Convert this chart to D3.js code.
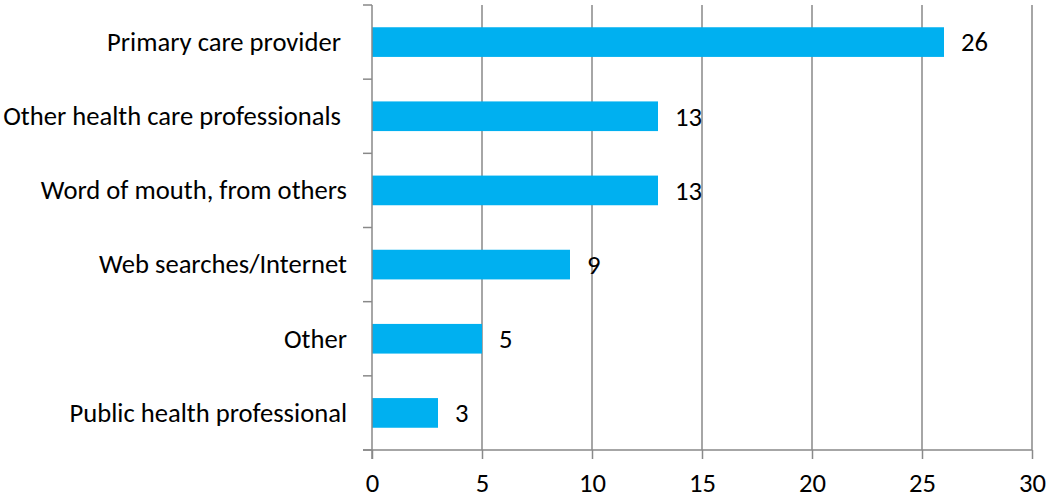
<!DOCTYPE html>
<html>
<head>
<meta charset="utf-8">
<script src="https://cdn.jsdelivr.net/npm/d3@7"></script>
<style>
  html, body { margin: 0; padding: 0; background: #fff; }
  svg { display: block; }
  text { font-family: Carlito, Calibri, Lato, "Open Sans", sans-serif; fill: #000; }
</style>
</head>
<body>
<svg id="chart" width="1047" height="498"></svg>
<script>
const categories = [
  "Primary care provider ",
  "Other health care professionals ",
  "Word of mouth, from others",
  "Web searches/Internet",
  "Other",
  "Public health professional"
];
const values = [26, 13, 13, 9, 5, 3];
const xTicks = [0, 5, 10, 15, 20, 25, 30];

(function () {
const svg = d3.select("#chart");
const mLeft = 372, mRight = 1032, mTop = 5, mBottom = 450;
const gray = "#898989";

const x = d3.scaleLinear().domain([0, 30]).range([mLeft, mRight]);
const y = d3.scaleBand().domain(categories).range([mTop, mBottom]).paddingInner(0.6).paddingOuter(0.3);

// font size so longest label ~ 338px wide
const probe = svg.append("text").attr("font-size", 20).style("white-space", "pre").text("Other health care professionals");
const w = probe.node().getComputedTextLength();
probe.remove();
const fs = Math.max(18, Math.min(30, 20 * 338 / w));

// gridlines
svg.append("g").selectAll("line").data(xTicks.filter(d => d > 0)).join("line")
  .attr("x1", d => x(d)).attr("x2", d => x(d))
  .attr("y1", mTop).attr("y2", mBottom)
  .attr("stroke", gray).attr("stroke-width", 1.5);

// bars
svg.append("g").selectAll("rect").data(categories).join("rect")
  .attr("x", x(0))
  .attr("y", d => y(d))
  .attr("width", (d, i) => x(values[i]) - x(0))
  .attr("height", y.bandwidth())
  .attr("fill", "#00B0F0");

// value labels
svg.append("g").selectAll("text").data(categories).join("text")
  .attr("x", (d, i) => x(values[i]) + 17)
  .attr("y", d => y(d) + y.bandwidth() / 2)
  .attr("dy", "0.35em")
  .attr("font-size", fs)
  .text((d, i) => values[i]);

// x axis
const xAxis = d3.axisBottom(x).tickValues(xTicks).tickSize(9).tickFormat(d3.format("d"));
const gx = svg.append("g").attr("transform", `translate(0,${mBottom})`).call(xAxis);
gx.select(".domain").attr("stroke", gray).attr("stroke-width", 1.5).attr("d", `M${mLeft - 9},0H${mRight}`);
gx.selectAll(".tick line").attr("stroke", gray).attr("stroke-width", 1.5);
gx.selectAll(".tick text").attr("font-size", fs).attr("fill", "#000")
  .attr("y", 42).attr("dy", 0)
  .style("font-family", "Carlito, Calibri, Lato, 'Open Sans', sans-serif");

// y axis: ticks at band boundaries
const boundaries = categories.map(c => y(c) - y.step() * y.paddingInner() / 2);
boundaries[0] = mTop;
boundaries.push(mBottom);
const gy = svg.append("g");
gy.append("line").attr("x1", mLeft).attr("x2", mLeft).attr("y1", mTop).attr("y2", mBottom + 9)
  .attr("stroke", gray).attr("stroke-width", 1.5);
gy.selectAll("line.t").data(boundaries).join("line").attr("class", "t")
  .attr("x1", mLeft - 9).attr("x2", mLeft)
  .attr("y1", d => d).attr("y2", d => d)
  .attr("stroke", gray).attr("stroke-width", 1.5);

// category labels
svg.append("g").selectAll("text").data(categories).join("text")
  .attr("x", mLeft - 25)
  .attr("y", d => y(d) + y.bandwidth() / 2)
  .attr("dy", "0.33em")
  .attr("text-anchor", "end")
  .attr("font-size", fs)
  .style("white-space", "pre")
  .text(d => d);
})();
</script>
</body>
</html>
